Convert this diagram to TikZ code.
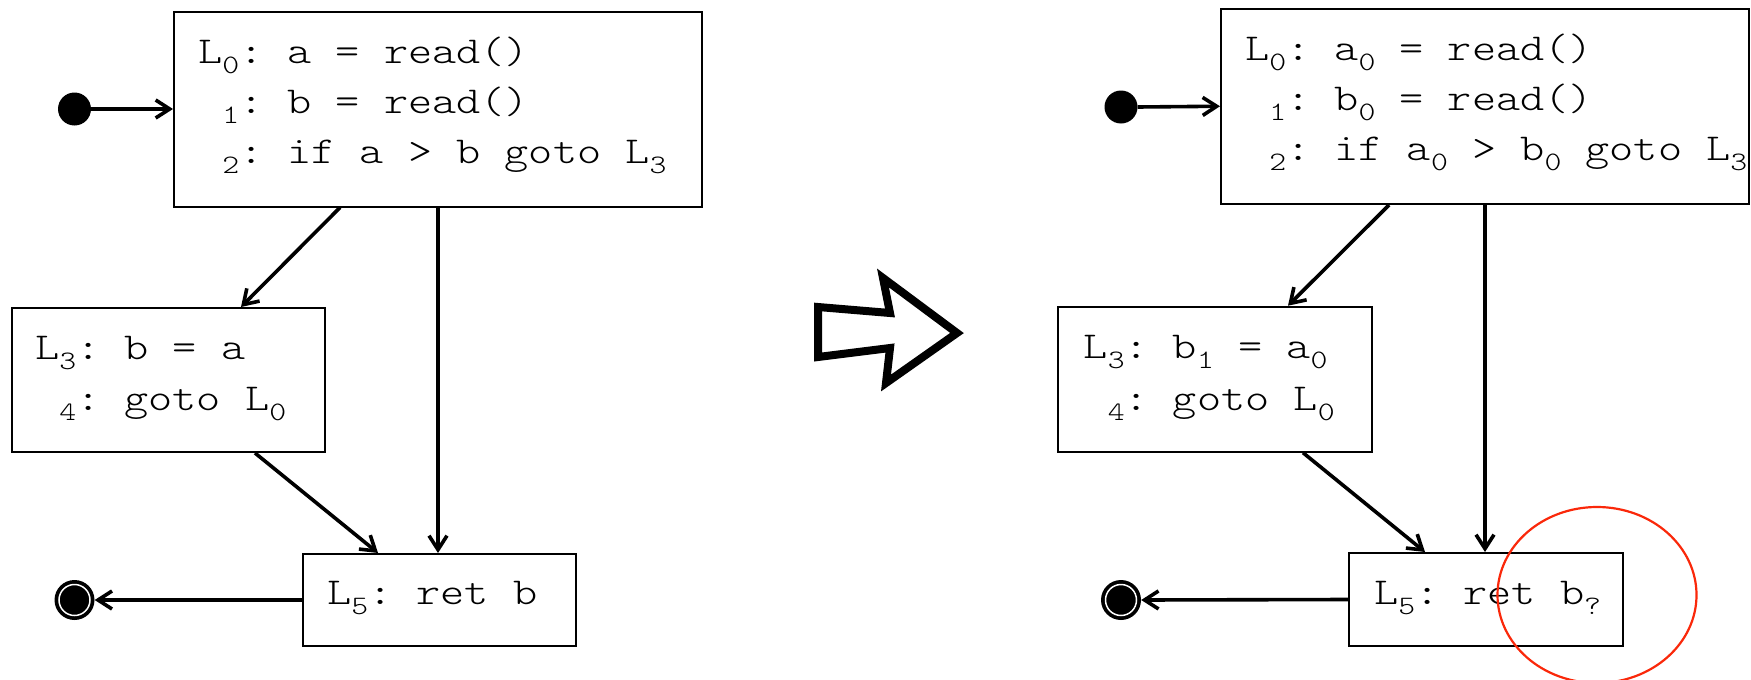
\documentclass[tikz,border=0pt]{standalone}
\usepackage{fontspec}
\usetikzlibrary{arrows.meta,calc}
\newfontfamily\code{lmmonolt10-regular.otf}[FakeStretch=1.21]
\newcommand\sbs[1]{\raisebox{-10pt}{\fontsize{26.6pt}{26.6pt}\selectfont #1}}
\definecolor{redmark}{RGB}{250,40,10}
\frenchspacing
\begin{document}
\begin{tikzpicture}[x=1pt,y=-1pt,
  blk/.style={draw=black, line width=2pt, rectangle, inner sep=0pt, fill=none},
  txt/.style={anchor=base west, inner sep=0pt, font=\code\fontsize{38pt}{38pt}\selectfont\frenchspacing},
  edge/.style={line width=3.6pt, -{Straight Barb[length=14pt,width=18pt]}},
  startst/.style={circle, fill=black, inner sep=0pt, minimum size=33pt},
  endst/.style={circle, fill=black, inner sep=0pt, minimum size=40pt,
    path picture={\draw[white, line width=1.5pt] (path picture bounding box.center) circle (15.5pt);}}]
\useasboundingbox (0,0) rectangle (1751,680);

% ---------- left graph ----------
\node[blk, minimum width=528pt, minimum height=195pt] (T1) at (438,109) {};
\node[blk, minimum width=313.5pt, minimum height=144pt] (A1) at (168.25,380) {};
\node[blk, minimum width=273.3pt, minimum height=92pt] (B1) at (439.4,600) {};
\node[startst] (S1) at (74.5,109) {};
\node[endst] (E1) at (74.5,600) {};

\node[txt] (t1a) at (198,63) {L\sbs{0}: a = read()};
\node[txt] (t1b) at (198,113) {\phantom{L}\sbs{1}: b = read()};
\node[txt] (t1c) at (198,163) {\phantom{L}\sbs{2}: if a > b goto L\sbs{3}};
\node[txt] (a1a) at (35,359) {L\sbs{3}: b = a};
\node[txt] (a1b) at (35,410) {\phantom{L}\sbs{4}: goto L\sbs{0}};
\node[txt] (b1a) at (327,604) {L\sbs{5}: ret b};

\draw[edge] (S1.east) -- (T1.west);
\draw[edge] ($(T1.south west)+(167,0)$) -- ($(A1.north west)+(230.5,0)$);
\draw[edge] (T1.south) -- (T1.south |- B1.north);
\draw[edge] ($(A1.south west)+(244.5,0)$) -- ($(B1.north west)+(76.3,0)$);
\draw[edge] (B1.west) -- (E1.east);

% ---------- transformation arrow ----------
\draw[line width=8pt, line join=miter] (818,307) -- (890,313) -- (883,278) -- (957,333)
  -- (886,383) -- (890,348) -- (818,357) -- cycle;

% ---------- right graph ----------
\node[blk, minimum width=528pt, minimum height=195.5pt] (T2) at (1485,106.25) {};
\node[blk, minimum width=314pt, minimum height=145pt] (A2) at (1215,379.2) {};
\node[blk, minimum width=274pt, minimum height=93pt] (B2) at (1486,599.5) {};
\node[startst] (S2) at (1121,107) {};
\node[endst] (E2) at (1121,600) {};

\node[txt] (t2a) at (1245,60) {L\sbs{0}: a\sbs{0} = read()};
\node[txt] (t2b) at (1245,110) {\phantom{L}\sbs{1}: b\sbs{0} = read()};
\node[txt] (t2c) at (1245,160) {\phantom{L}\sbs{2}: if a\sbs{0} > b\sbs{0} goto L\sbs{3}};
\node[txt] (a2a) at (1083.5,358.5) {L\sbs{3}: b\sbs{1} = a\sbs{0}};
\node[txt] (a2b) at (1083.5,410.5) {\phantom{L}\sbs{4}: goto L\sbs{0}};
\node[txt] (b2a) at (1374,604) {L\sbs{5}: ret b\sbs{?}};

\draw[edge] (S2.east) -- (T2.west);
\draw[edge] ($(T2.south west)+(169,0)$) -- ($(A2.north west)+(231,0)$);
\draw[edge] (T2.south) -- (T2.south |- B2.north);
\draw[edge] ($(A2.south west)+(246,0)$) -- ($(B2.north west)+(77,0)$);
\draw[edge] (B2.west) -- (E2.east);

\draw[redmark, line width=2.2pt] (1597,595) ellipse [x radius=99.5, y radius=88];
\end{tikzpicture}
\end{document}
